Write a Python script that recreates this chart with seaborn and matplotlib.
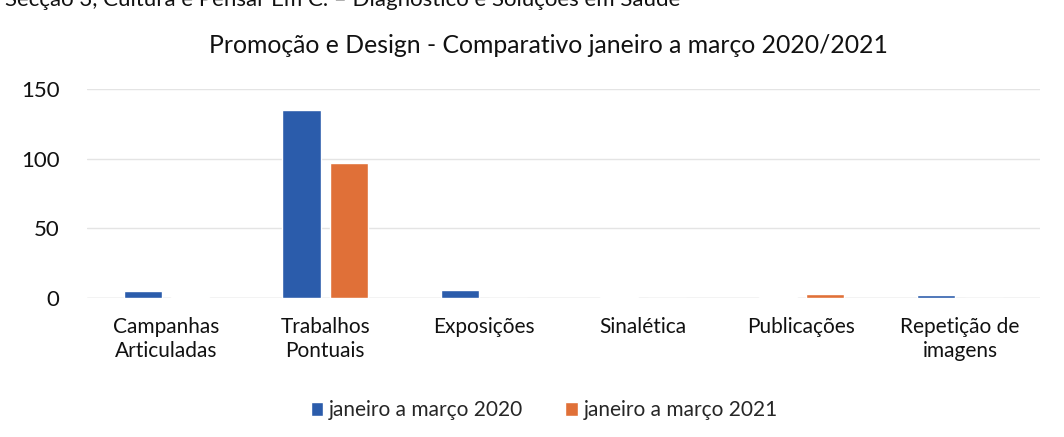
import matplotlib
matplotlib.use("Agg")
import matplotlib.pyplot as plt
import seaborn as sns
import pandas as pd

categories = ["Campanhas\nArticuladas", "Trabalhos\nPontuais", "Exposições",
              "Sinalética", "Publicações", "Repetição de\nimagens"]
series_names = ["janeiro a março 2020", "janeiro a março 2021"]
values_2020 = [5, 135, 6, 0.5, 1, 2]
values_2021 = [1, 97, 0, 0.3, 3, 0]
yticks = [0, 50, 100, 150]
title = "Promoção e Design - Comparativo janeiro a março 2020/2021"
header = "Secção 3, Cultura e Pensar Em C. – Diagnóstico e Soluções em Saúde"

df = pd.DataFrame({
    "categoria": categories * 2,
    "serie": [series_names[0]] * len(categories) + [series_names[1]] * len(categories),
    "valor": values_2020 + values_2021,
})

sns.set_theme(style="white")
plt.rcParams["font.family"] = ["Lato", "DejaVu Sans"]

fig = plt.figure(figsize=(10.64, 4.37), dpi=100)
ax = fig.add_axes([0.082, 0.318, 0.895, 0.478])

sns.barplot(data=df, x="categoria", y="valor", hue="serie",
            palette=["#2B5CAB", "#E07038"], width=0.6, gap=0.2,
            ax=ax, errorbar=None, saturation=1)

ax.set_ylim(0, 150)
ax.set_yticks(yticks)
ax.set_yticklabels([str(t) for t in yticks], fontsize=16, color="#111111")
ax.tick_params(axis="x", labelsize=15, colors="#111111", length=0, pad=14)
ax.tick_params(axis="y", length=0, pad=20)
for lab in ax.get_xticklabels():
    lab.set_linespacing(1.25)
ax.set_xlabel("")
ax.set_ylabel("")
ax.yaxis.grid(True, color="#e4e4e4", linewidth=1)
ax.set_axisbelow(True)
for s in ax.spines.values():
    s.set_visible(False)
ax.axhline(0, color="#d9d9d9", linewidth=1, zorder=0.5)

fig.text(0.515, 0.895, title, ha="center", va="center", fontsize=17.8, color="#111111")
fig.text(0.005, 1.0, header, ha="left", va="center", fontsize=16, color="#111111")

leg = ax.legend(loc="upper center", bbox_to_anchor=(0.48, -0.40), ncol=2,
                frameon=False, fontsize=15, handlelength=0.6, handleheight=0.6,
                handletextpad=0.3, columnspacing=2.0)

fig.savefig("out.png", dpi=100)
